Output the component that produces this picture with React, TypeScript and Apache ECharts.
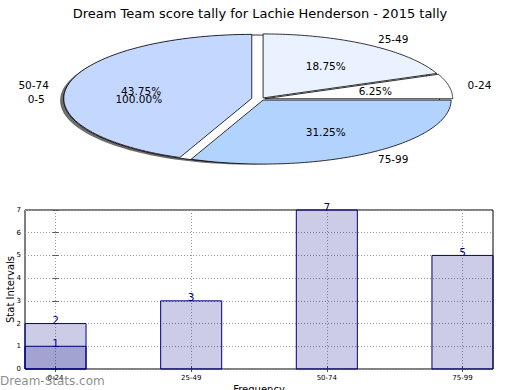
import React, { useEffect, useRef } from "react";
import * as echarts from "echarts";

const TITLE = "Dream Team score tally for Lachie Henderson - 2015 tally";
const categories = ["0-24", "25-49", "50-74", "75-99"];
const pieValues = [1, 3, 7, 5];
const subCategories = ["0-5"];
const subPieValues = [1];
const barValues = [2, 3, 7, 5];
const subBarValues = [1];
const tickPositions = [0, 1, 2, 3];

const FONT = "DejaVu Sans";
const pieColors = ["#ffffff", "#eaf1ff", "#c4d8ff", "#b3d3ff"];
const pieExplode = [0.02, 0.02, 0.05, 0.02];
const subExplode = [0.05];
const PIE = { cx: 261, cy: 99, rx: 188, ry: 64 };
const BAR_HALF = 0.225;

function wedgeGeom(values: number[], i: number, explode: number[]) {
  const total = values.reduce((a, b) => a + b, 0);
  let start = 0;
  for (let j = 0; j < i; j++) start += values[j];
  const a1 = (start / total) * Math.PI * 2;
  const a2 = ((start + values[i]) / total) * Math.PI * 2;
  const mid = (a1 + a2) / 2;
  const ox = PIE.cx + explode[i] * PIE.rx * Math.cos(mid);
  const oy = PIE.cy - explode[i] * PIE.ry * Math.sin(mid);
  return { a1, a2, mid, ox, oy, pct: ((values[i] / total) * 100).toFixed(2) + "%" };
}

function barRender(params: any, api: any) {
  const x = api.value(0);
  const y = api.value(1);
  const p0 = api.coord([x - BAR_HALF, 0]);
  const p1 = api.coord([x + BAR_HALF, y]);
  return {
    type: "group",
    children: [
      {
        type: "rect",
        shape: { x: p0[0], y: p1[1], width: p1[0] - p0[0], height: p0[1] - p1[1] },
        style: { fill: "rgba(0,0,128,0.2)", stroke: "#000080", lineWidth: 1 },
      },
      {
        type: "text",
        z2: 10,
        style: {
          text: String(y),
          x: (p0[0] + p1[0]) / 2,
          y: p1[1] + 2,
          align: "center",
          verticalAlign: "bottom",
          fontSize: 10.5,
          fontFamily: FONT,
          fill: "#000080",
        },
      },
    ],
  };
}

function pieLabel(text: string, x: number, y: number, align: string) {
  return {
    type: "text",
    z2: 10,
    style: { text, x, y, align, verticalAlign: "middle", fontSize: 10.5, fontFamily: FONT, fill: "#000" },
  };
}

export default function App() {
  const ref = useRef<HTMLDivElement>(null);
  useEffect(() => {
    if (!ref.current) return;
    const chart = echarts.init(ref.current, undefined, { renderer: "svg" });
    const tickStyle = { inside: true, length: 3, lineStyle: { color: "#555" } };

    const option: any = {
      animation: false,
      textStyle: { fontFamily: FONT },
      title: {
        text: TITLE,
        left: "center",
        top: 2,
        textStyle: { fontSize: 13, fontWeight: "normal", color: "#000", fontFamily: FONT },
      },
      grid: {
        left: 25,
        top: 210,
        width: 468,
        height: 159,
        show: true,
        borderColor: "#000",
        borderWidth: 1,
        backgroundColor: "transparent",
        outerBoundsMode: "none",
        containLabel: false,
      },
      xAxis: [
        {
          type: "value",
          min: -BAR_HALF,
          max: 3 + BAR_HALF,
          name: "Frequency",
          nameLocation: "middle",
          nameGap: 15,
          nameMoveOverlap: false,
          nameTextStyle: { fontSize: 10, color: "#000", fontFamily: FONT },
          axisLine: { show: false },
          axisTick: { customValues: tickPositions, ...tickStyle },
          axisLabel: {
            customValues: tickPositions,
            formatter: (v: number) => categories[Math.round(v)] ?? "",
            fontSize: 7,
            color: "#000",
            margin: 5,
            fontFamily: FONT,
          },
          splitLine: { show: true, lineStyle: { type: [1, 2], color: "#999", width: 1 } },
        },
        {
          type: "value",
          position: "top",
          min: -BAR_HALF,
          max: 3 + BAR_HALF,
          axisLine: { show: false },
          axisTick: { customValues: tickPositions, ...tickStyle },
          axisLabel: { show: false },
          splitLine: { show: false },
        },
      ],
      yAxis: [
        {
          type: "value",
          min: 0,
          max: 7,
          interval: 1,
          name: "Stat Intervals",
          nameLocation: "middle",
          nameGap: 10,
          nameMoveOverlap: false,
          nameTextStyle: { fontSize: 10, color: "#000", fontFamily: FONT },
          axisLine: { show: false },
          axisTick: tickStyle,
          axisLabel: { fontSize: 7, color: "#000", margin: 4, fontFamily: FONT },
          splitLine: { show: true, lineStyle: { type: [1, 2], color: "#999", width: 1 } },
        },
        {
          type: "value",
          position: "right",
          min: 0,
          max: 7,
          interval: 1,
          axisLine: { show: false },
          axisTick: tickStyle,
          axisLabel: { show: false },
          splitLine: { show: false },
        },
      ],
      graphic: [
        {
          type: "text",
          left: 0,
          top: 375,
          z: 100,
          style: { text: "Dream-Stats.com", fontSize: 12, fontFamily: FONT, fill: "rgba(120,120,120,0.85)" },
        },
      ],
      series: [
        {
          type: "custom",
          coordinateSystem: "none",
          z: 1,
          data: subPieValues,
          renderItem: (params: any) => {
            const g = wedgeGeom(subPieValues, params.dataIndex, subExplode);
            return {
              type: "group",
              children: [
                {
                  type: "ellipse",
                  shape: { cx: g.ox - 3.5, cy: g.oy + 1.5, rx: PIE.rx, ry: PIE.ry },
                  style: { fill: "rgba(60,60,60,0.75)" },
                },
                {
                  type: "ellipse",
                  shape: { cx: g.ox, cy: g.oy, rx: PIE.rx, ry: PIE.ry },
                  style: { fill: "#ffffff", stroke: "#000", lineWidth: 0.8 },
                },
              ],
            };
          },
        },
        {
          type: "custom",
          coordinateSystem: "none",
          z: 2,
          data: pieValues,
          renderItem: (params: any) => {
            const i = params.dataIndex;
            const g = wedgeGeom(pieValues, i, pieExplode);
            const pts: number[][] = [[g.ox, g.oy]];
            const N = 80;
            for (let k = 0; k <= N; k++) {
              const t = g.a1 + ((g.a2 - g.a1) * k) / N;
              pts.push([g.ox + PIE.rx * Math.cos(t), g.oy - PIE.ry * Math.sin(t)]);
            }
            const c = Math.cos(g.mid);
            const s = Math.sin(g.mid);
            return {
              type: "group",
              children: [
                {
                  type: "polygon",
                  shape: { points: pts },
                  style: { fill: pieColors[i], stroke: "#000", lineWidth: 0.8 },
                },
                pieLabel(categories[i], g.ox + 1.1 * PIE.rx * c, g.oy - 1.1 * PIE.ry * s, c >= 0 ? "left" : "right"),
                pieLabel(g.pct, g.ox + 0.6 * PIE.rx * c, g.oy - 0.6 * PIE.ry * s, "center"),
              ],
            };
          },
        },
        {
          type: "custom",
          coordinateSystem: "none",
          z: 3,
          data: subPieValues,
          renderItem: (params: any) => {
            const i = params.dataIndex;
            const g = wedgeGeom(subPieValues, i, subExplode);
            const c = Math.cos(g.mid);
            const s = Math.sin(g.mid);
            return {
              type: "group",
              children: [
                pieLabel(subCategories[i], g.ox + 1.1 * PIE.rx * c, g.oy - 1.1 * PIE.ry * s, c >= 0 ? "left" : "right"),
                pieLabel(g.pct, g.ox + 0.6 * PIE.rx * c, g.oy - 0.6 * PIE.ry * s, "center"),
              ],
            };
          },
        },
        {
          type: "custom",
          name: "main",
          z: 4,
          coordinateSystem: "cartesian2d",
          xAxisIndex: 0,
          yAxisIndex: 0,
          data: barValues.map((v, i) => [i, v]),
          renderItem: barRender,
        },
        {
          type: "custom",
          name: "sub",
          z: 5,
          coordinateSystem: "cartesian2d",
          xAxisIndex: 0,
          yAxisIndex: 0,
          data: subBarValues.map((v, i) => [i, v]),
          renderItem: barRender,
        },
      ],
    };
    chart.setOption(option);
    return () => chart.dispose();
  }, []);
  return (
    <div
      ref={ref}
      style={{ position: "fixed", left: 0, top: 0, width: 520, height: 390, background: "#fff" }}
    />
  );
}
